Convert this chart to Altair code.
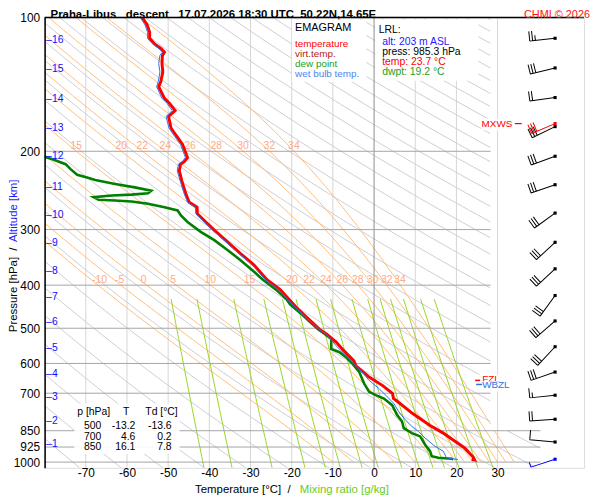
import numpy as np
import pandas as pd
import altair as alt

FONT = "Liberation Sans"

# ---------------- sounding data ----------------
temp_p = [100.0, 104.0, 108.0, 111.4, 114.7, 117.6, 119.7, 121.7, 127.0, 132.6, 139.5, 143.2,
          152.0, 156.0, 161.9, 167.0, 177.3, 181.9, 193.0, 206.7, 211.0, 213.8, 221.3, 232.9,
          241.1, 249.4, 260.3, 267.1, 276.3, 285.9, 300.9, 319.7, 339.2, 360.1, 389.0, 409.4,
          449.6, 502.4, 515.5, 537.0, 562.3, 592.0, 607.5, 626.4, 642.7, 673.0, 701.3, 719.5,
          730.7, 776.8, 826.0, 860.6, 892.1, 929.4, 973.2, 988.3, 985.3]
temp_T = [-56.3, -55.1, -54.5, -54.5, -53.3, -51.7, -50.9, -51.4, -51.5, -51.3, -51.8, -52.3,
          -50.9, -49.7, -48.3, -49.9, -49.3, -48.5, -46.5, -45.3, -46.1, -47.0, -47.3, -46.7,
          -46.2, -45.7, -44.9, -43.0, -42.9, -41.3, -38.8, -35.6, -32.5, -29.2, -26.0, -22.8,
          -18.8, -13.3, -11.5, -9.2, -7.3, -4.9, -4.4, -2.7, -1.3, 2.1, 4.5, 4.7,
          5.7, 9.3, 13.5, 16.8, 19.2, 22.0, 24.0, 24.4, 23.7]

dew_p = [203.0, 205.6, 208.4, 213.8, 219.4, 225.9, 229.1, 232.1, 236.9, 241.1, 245.2, 248.6,
         250.3, 251.5, 253.7, 257.1, 258.0, 259.4, 262.5, 267.1, 271.7, 278.8, 288.4, 303.6,
         316.8, 333.4, 351.0, 372.7, 389.0, 409.4, 430.9, 442.1, 461.2, 481.5, 502.4, 515.5,
         528.9, 556.7, 566.2, 580.9, 601.2, 627.4, 666.1, 695.0, 707.2, 719.5, 744.6, 783.9,
         810.6, 839.1, 860.9, 875.5, 913.7, 945.2, 969.7, 978.2, 983.2, 985.3]
dew_T = [-83.0, -80.1, -78.1, -74.9, -73.7, -72.1, -69.7, -67.7, -62.9, -58.1, -54.1, -54.9,
         -58.9, -63.7, -68.1, -66.9, -62.9, -58.9, -54.9, -50.9, -47.7, -46.9, -45.3, -42.1,
         -38.8, -35.6, -32.5, -29.2, -27.0, -23.8, -21.2, -20.4, -18.0, -15.8, -13.6, -11.9,
         -10.4, -10.4, -8.4, -6.8, -5.2, -3.6, -2.4, -1.2, 0.4, 2.4, 4.4, 5.6,
         6.8, 7.2, 9.2, 11.2, 12.4, 13.6, 14.0, 15.6, 18.8, 19.2]

wb_p = [100.0, 104.0, 108.0, 111.4, 114.7, 117.6, 119.7, 121.7, 127.0, 132.6, 139.5, 143.2,
        152.0, 156.0, 161.9, 167.0, 177.3, 181.9, 193.0, 206.7, 211.0, 213.8, 221.3, 232.9,
        241.1, 249.4, 260.3, 267.1, 276.3, 285.9, 300.9, 319.7, 339.2, 360.1, 389.0, 409.4,
        449.6, 502.4, 515.5, 533.5, 547.4, 576.1, 601.2, 627.4, 655.0, 683.4, 713.2, 737.9,
        770.2, 803.9, 831.5, 853.1, 883.0, 921.4, 945.2, 978.2, 986.7]
wb_T = [-56.8, -55.6, -55.0, -55.0, -53.8, -52.2, -51.4, -52.0, -52.3, -52.0, -52.4, -52.8,
        -51.5, -50.3, -49.0, -50.5, -49.8, -49.0, -47.0, -45.8, -46.6, -47.5, -47.8, -47.1,
        -46.6, -46.1, -45.3, -43.4, -43.3, -41.7, -39.2, -36.0, -32.9, -29.6, -26.4, -23.2,
        -19.1, -13.4, -11.7, -10.2, -9.2, -6.8, -4.8, -2.9, -1.2, 1.2, 3.2, 4.8,
        6.0, 7.6, 9.2, 10.8, 12.4, 14.8, 16.8, 17.6, 20.4]

km_levels = [1, 2, 3, 4, 5, 6, 7, 8, 9, 10, 11, 12, 13, 14, 15, 16]
km_p = [908.5, 809.4, 713.9, 632.6, 555.3, 485.3, 425.3, 371.1, 320.8, 277.9, 240.4, 205.3,
        177.4, 152.9, 130.8, 112.3]

p_levels = [100, 200, 300, 400, 500, 600, 700, 850, 925, 1000]
x_ticks = [-70, -60, -50, -40, -30, -20, -10, 0, 10, 20, 30]
isotherms = [-80, -70, -60, -50, -40, -30, -20, -10, 10, 20, 30]
theta_dry = list(range(200, 601, 10))
theta_w = [-10, -5, 0, 5, 10, 15, 20, 22, 24, 26, 28, 30, 32, 34]
mix_w = [0.1, 0.2, 0.5, 1, 1.5, 2, 3, 4, 6, 8, 10, 12, 15, 20, 25]
mix_lab = ["0.1", "0.2", "0.5", "1", "1.5", "2", "3", "4", "6", "8", "10", "12", "15", "20", "25"]

barb_p = [111.4, 129.9, 151.4, 176.0, 205.2, 237.8, 275.4, 320.4, 367.6, 422.1, 481.5, 550.2,
          627.4, 707.3, 801.0, 901.2]
barb_dir = [264, 256, 262, 244, 250, 251, 234, 227, 227, 216, 229, 223, 251, 264, 266, 275]
barb_spd = [25, 30, 20, 30, 30, 30, 30, 30, 30, 30, 30, 30, 30, 15, 20, 10]
sfc_p, sfc_dir, sfc_spd = 985.3, 252, 5
mxws_p, mxws_dir, mxws_spd = 173.3, 247, 30
fzl_p, wbzl_p = 655.0, 669.0

table_p = [500, 700, 850]
table_T = [-13.2, 4.6, 16.1]
table_Td = [-13.6, 0.2, 7.8]

# ---------------- geometry ----------------
W, H = 545, 455
TMIN, TMAX = -80.0, 51.0
PTOP, PBOT = 100.0, 1030.0
TCUT_UP, TCUT_LOW, PCUT = 28.3, 40.4, 850.0

xs = alt.Scale(domain=[TMIN, TMAX], nice=False, zero=False)
ys = alt.Scale(type="log", domain=[PTOP, PBOT], reverse=True, nice=False)
xax = alt.Axis(values=x_ticks, labelExpr="'' + datum.value", ticks=False, tickSize=0, domain=False,
               grid=False, labelPadding=0, labelFontSize=12, labelFont=FONT, labelColor="black",
               title=None, labelFlush=False, labelOverlap=False)
yax = alt.Axis(values=p_levels, labelExpr="'' + datum.value", ticks=False, tickSize=0, domain=True,
               domainColor="black", domainWidth=1.5, grid=False, labelPadding=5, labelFontSize=12,
               labelFont=FONT, labelColor="black", title=None, labelFlush=False,
               labelOverlap=False, zindex=1)


def X(f="T"):
    return alt.X(f"{f}:Q", scale=xs, axis=xax)


def Y(f="p"):
    return alt.Y(f"{f}:Q", scale=ys, axis=yax)


DUMMY = pd.DataFrame({"a": [0]})
layers = []


def txt(s, x, y, color="black", size=11, weight="normal", align="left", baseline="middle", angle=0):
    kw = dict(color=color, fontSize=size, fontWeight=weight, align=align, baseline=baseline, font=FONT)
    if angle:
        kw["angle"] = angle
    return alt.Chart(DUMMY).mark_text(**kw).encode(x=alt.value(x), y=alt.value(y), text=alt.value(s))


def box(x1, x2, y1, y2, color="white", opacity=1.0):
    return alt.Chart(DUMMY).mark_rect(color=color, opacity=opacity).encode(
        x=alt.value(x1), x2=alt.value(x2), y=alt.value(y1), y2=alt.value(y2))


def hline(x1, x2, y, color="black", width=1.0):
    return alt.Chart(DUMMY).mark_rule(color=color, strokeWidth=width).encode(
        x=alt.value(x1), x2=alt.value(x2), y=alt.value(y))


# ---------------- thermodynamic background lines ----------------
P = np.unique(np.concatenate([np.geomspace(PTOP, PBOT, 1600),
                              [200.0, 400.0, 418.0, 430.0, 850.0, 1000.0]]))
lnP = np.log(P)
tcut = np.where(P < PCUT, TCUT_UP, TCUT_LOW)


def segments(Tc, step=14):
    ok = np.isfinite(Tc) & (Tc <= tcut) & (Tc >= -90)
    segs, i, n = [], 0, len(P)
    while i < n:
        if ok[i]:
            j = i
            while j + 1 < n and ok[j + 1]:
                j += 1
            idx = sorted(set(list(range(i, j + 1, step)) + [j]))
            segs.append(idx)
            i = j + 1
        else:
            i += 1
    return segs


def lines_df(curves):
    rows = []
    sid = 0
    for Tc in curves:
        for idx in segments(Tc):
            for k, ii in enumerate(idx):
                rows.append((sid, k, round(float(Tc[ii]), 3), round(float(P[ii]), 3)))
            sid += 1
    return pd.DataFrame(rows, columns=["sid", "i", "T", "p"])


# dry adiabats
dry_curves = [th * (P / 1000.0) ** 0.2857 - 273.15 for th in theta_dry]

# pseudo-adiabats (integrated numerically)
Rd, cp, Lv, eps = 287.04, 1005.7, 2.501e6, 0.622


def dTdlnp(T, p):
    es = 6.112 * np.exp(17.67 * (T - 273.15) / (T - 29.65))
    rs = eps * es / (p - es)
    return (Rd * T + Lv * rs) / (cp + Lv * Lv * rs * eps / (Rd * T * T))


i0 = int(np.where(np.isclose(P, 1000.0))[0][0])
Tm = np.full((len(theta_w), len(P)), np.nan)
Tm[:, i0] = np.array(theta_w, dtype=float) + 273.15
for i in range(i0, 0, -1):
    h = lnP[i - 1] - lnP[i]
    t = Tm[:, i]
    x = lnP[i]
    k1 = dTdlnp(t, np.exp(x))
    k2 = dTdlnp(t + h * k1 / 2, np.exp(x + h / 2))
    k3 = dTdlnp(t + h * k2 / 2, np.exp(x + h / 2))
    k4 = dTdlnp(t + h * k3, np.exp(x + h))
    Tm[:, i - 1] = t + h * (k1 + 2 * k2 + 2 * k3 + k4) / 6
moist_curves = [Tm[k] - 273.15 for k in range(len(theta_w))]

# mixing-ratio lines
mix_curves = []
for w in mix_w:
    e = w * P / (622.0 + w)
    a = np.log(e / 6.112)
    Tc = 243.5 * a / (17.67 - a)
    Tc = np.where(P >= 430.0, Tc, np.nan)
    mix_curves.append(Tc)

# isotherms and level lines
layers.append(alt.Chart(pd.DataFrame({"T": isotherms})).mark_rule(color="#d6d6d6", strokeWidth=1).encode(
    x=X(), y=alt.value(0), y2=alt.value(H)))
layers.append(alt.Chart(lines_df(dry_curves)).mark_line(color="#cdcdd2", strokeWidth=1, clip=True).encode(
    x=X(), y=Y(), detail="sid:N", order="i:Q"))
layers.append(alt.Chart(lines_df(moist_curves)).mark_line(color="#ffbe7a", strokeWidth=1, clip=True).encode(
    x=X(), y=Y(), detail="sid:N", order="i:Q"))
layers.append(alt.Chart(lines_df(mix_curves)).mark_line(color="#99d522", strokeWidth=1, clip=True).encode(
    x=X(), y=Y(), detail="sid:N", order="i:Q"))
layers.append(alt.Chart(pd.DataFrame({"T": [0]})).mark_rule(color="#8c8c8c", strokeWidth=1).encode(
    x=X(), y=alt.value(0), y2=alt.value(H)))
lev_df = pd.DataFrame({"p": p_levels,
                       "x0": [TMIN] * len(p_levels),
                       "x1": [TCUT_UP if p < PCUT else TCUT_LOW for p in p_levels]})
layers.append(alt.Chart(lev_df).mark_rule(color="#a4a4a4", strokeWidth=1).encode(
    x=X("x0"), x2="x1:Q", y=Y()))

# labels of moist adiabats and mixing ratio lines
ml = []
for k, tw in enumerate(theta_w):
    T400 = float(np.interp(400.0, P, moist_curves[k]))
    T200 = float(np.interp(200.0, P, moist_curves[k]))
    if T400 > TMIN:
        ml.append((T400, 400.0, str(tw)))
    if T200 > TMIN + 1:
        ml.append((T200, 200.0, str(tw)))
ml_df = pd.DataFrame(ml, columns=["T", "p", "lab"])
layers.append(alt.Chart(ml_df).mark_text(color="#ffaa88", fontSize=10.5, font=FONT, align="left",
                                         baseline="alphabetic", dx=-6, dy=-2).encode(
    x=X(), y=Y(), text="lab:N"))
mx_df = pd.DataFrame({"T": [float(np.interp(418.0, P, c)) for c in mix_curves],
                      "p": [418.0] * len(mix_w), "lab": mix_lab})
layers.append(alt.Chart(mx_df).mark_text(color="#99cc33", fontSize=10, font=FONT, align="center",
                                         baseline="middle").encode(x=X(), y=Y(), text="lab:N"))

# ---------------- profiles ----------------
def prof(ps, ts):
    return pd.DataFrame({"i": range(len(ps)), "p": ps, "T": ts})


layers.append(alt.Chart(prof(dew_p, dew_T)).mark_line(color="#008000", strokeWidth=2.6, clip=True).encode(
    x=X(), y=Y(), order="i:Q"))
layers.append(alt.Chart(prof(temp_p, temp_T)).mark_line(color="#ff0000", strokeWidth=3, clip=True).encode(
    x=X(), y=Y(), order="i:Q"))
layers.append(alt.Chart(prof(wb_p, wb_T)).mark_line(color="#2f6fe8", strokeWidth=1, clip=True).encode(
    x=X(), y=Y(), order="i:Q"))

# altitude labels
km_df = pd.DataFrame({"p": km_p, "lab": ["\u2013" + str(k) for k in km_levels]})
layers.append(alt.Chart(km_df).mark_text(color="#1010ff", fontSize=10.5, font=FONT, align="left",
                                         baseline="middle").encode(x=alt.value(1.5), y=Y(), text="lab:N"))

# freezing levels (red FZL label mostly hidden behind the WBZL label, as in the original)
layers.append(box(434, 478, 361, 378))
layers.append(alt.Chart(pd.DataFrame({"p": [fzl_p]})).mark_rule(color="red", strokeWidth=1.5).encode(
    x=alt.value(435), x2=alt.value(440), y=Y()))
layers.append(alt.Chart(pd.DataFrame({"p": [fzl_p]})).mark_text(color="red", fontSize=10, font=FONT,
                                                                align="left", baseline="middle",
                                                                dy=-1).encode(
    x=alt.value(442), y=Y(), text=alt.value("FZL")))
layers.append(box(441, 478, 367.5, 378))
layers.append(alt.Chart(pd.DataFrame({"p": [wbzl_p]})).mark_rule(color="#2f6fe8", strokeWidth=1.5).encode(
    x=alt.value(436), x2=alt.value(442), y=Y()))
layers.append(alt.Chart(pd.DataFrame({"p": [wbzl_p]})).mark_text(color="#2f6fe8", fontSize=10, font=FONT,
                                                                 align="left", baseline="middle",
                                                                 dy=1).encode(
    x=alt.value(442), y=Y(), text=alt.value("WBZL")))

# MXWS label
layers.append(box(441, 474, 102, 114))
layers.append(alt.Chart(pd.DataFrame({"p": [mxws_p]})).mark_text(color="red", fontSize=10, font=FONT,
                                                                 align="right", baseline="middle").encode(
    x=alt.value(472.5), y=Y(), text=alt.value("MXWS")))
layers.append(alt.Chart(pd.DataFrame({"p": [mxws_p]})).mark_rule(color="red", strokeWidth=1.2).encode(
    x=alt.value(475), x2=alt.value(482), y=Y()))

# ---------------- wind barbs ----------------
def barb_path(spd):
    parts = ["M0,0L-1,0"]
    n10 = int(spd // 10)
    n5 = int((spd % 10) // 5)
    pos = -1.0
    for _ in range(n10):
        parts.append(f"M{pos:.3f},0L{pos:.3f},-0.38")
        pos += 0.11
    for _ in range(n5):
        parts.append(f"M{pos:.3f},0L{pos:.3f},-0.2")
        pos += 0.11
    return "".join(parts)


def barb_layers(ps, dirs, spds, color):
    df = pd.DataFrame({"p": ps,
                       "path": [barb_path(s) for s in spds],
                       "ang": [(d - 270) % 360 for d in dirs]})
    b = alt.Chart(df).mark_point(filled=False, color=color, strokeWidth=1, opacity=1, size=2642).encode(
        x=alt.value(515.7), y=Y(), shape=alt.Shape("path:N", scale=None),
        angle=alt.Angle("ang:Q", scale=None))
    s = alt.Chart(df).mark_square(color=color, size=10, opacity=1).encode(x=alt.value(515.7), y=Y())
    return [b, s]


layers += barb_layers(barb_p, barb_dir, barb_spd, "black")
layers += barb_layers([mxws_p], [mxws_dir], [mxws_spd], "red")
layers += barb_layers([sfc_p], [sfc_dir], [sfc_spd], "#0000ee")

# ---------------- legend / info boxes ----------------
layers.append(box(250, 325, 2, 65))
layers.append(txt("EMAGRAM", 253, 11, size=11))
for s, c, yy in [("temperature", "#ff0000", 27.3), ("virt.temp.", "#b22222", 37.3),
                 ("dew point", "#22a022", 47.3), ("wet bulb temp.", "#4a86f0", 57.3)]:
    layers.append(txt(s, 253, yy, color=c, size=10))

layers.append(box(334, 438, 2, 64))
layers.append(txt("LRL:", 337.5, 12.3, size=10.5))
for s, c, yy in [("alt: 203 m ASL", "#1a1aff", 25), ("press: 985.3 hPa", "black", 35),
                 ("temp: 23.7 \u00b0C", "#ff0000", 45), ("dwpt: 19.2 \u00b0C", "#22a022", 55)]:
    layers.append(txt(s, 341, yy, color=c, size=10.5))

layers.append(box(30, 136.5, 390, 441, opacity=0.92))
layers.append(txt("p [hPa]", 33, 398.3, size=10.5))
layers.append(txt("T", 82.5, 398.3, size=10.5, align="center"))
layers.append(txt("Td [\u00b0C]", 101.7, 398.3, size=10.5))
for k in range(len(table_p)):
    yy = 413.3 + k * 10.4
    layers.append(txt(str(table_p[k]), 57.3, yy, size=10.5, align="right"))
    layers.append(txt(f"{table_T[k]:.1f}", 91.7, yy, size=10.5, align="right"))
    layers.append(txt(f"{table_Td[k]:.1f}", 128.3, yy, size=10.5, align="right"))

# ---------------- titles and frame ----------------
layers.append(hline(0, W, 0, color="black", width=1.5))
NB = "\u00a0"
layers.append(txt(f"Praha-Libus{NB*3}descent{NB*3}17.07.2026 18:30 UTC{NB*2}50.22N,14.65E",
                  6, 0.5, size=11.5, weight="bold", baseline="alphabetic"))
layers.append(txt("CHMI \u00a9 2026", 551, 0.5, color="#ff1010", size=11, align="right",
                  baseline="alphabetic"))
layers.append(txt(f"Temperature [\u00b0C]{NB*2}/", 152, 477.7, size=11.5))
layers.append(txt("Mixing ratio [g/kg]", 257.7, 477.7, color="#66cc22", size=11.5))
layers.append(txt(f"Pressure [hPa]{NB*2}/", -31, 318, size=11.5, angle=270))
layers.append(txt("Altitude [km]", -31, 227, color="#1a1aff", size=11.5, angle=270))

chart = alt.layer(*layers).properties(
    width=W, height=H,
    autosize=alt.AutoSizeParams(type="none"),
    padding={"left": 37, "top": 7, "right": 8, "bottom": 30},
).configure_view(fill="#f0f0ff", stroke=None, strokeWidth=0).configure(font=FONT)

chart.save("out.html", embed_options={"renderer": "svg", "actions": False})
